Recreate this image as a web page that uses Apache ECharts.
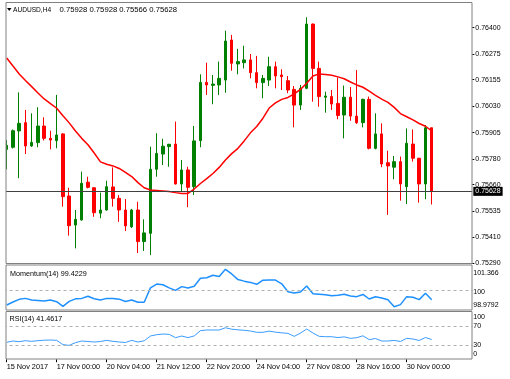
<!DOCTYPE html>
<html><head><meta charset="utf-8">
<script src="https://cdn.jsdelivr.net/npm/echarts@6/dist/echarts.min.js"></script>
<style>html,body{margin:0;padding:0;background:#fff}#c{width:510px;height:379px}</style>
</head><body><div id="c"></div>
<script>
// ---------- data ----------
const slotCount = 75; // 69 H4 bars + empty chart shift on the right
const xTickLabels = ['15 Nov 2017','17 Nov 00:00','20 Nov 04:00','21 Nov 12:00','22 Nov 20:00','24 Nov 04:00','27 Nov 08:00','28 Nov 16:00','30 Nov 00:00'];
const xTickEvery = 8;
const priceTicks = [0.75290,0.75410,0.75535,0.75660,0.75780,0.75905,0.76030,0.76155,0.76275,0.76400];
const momTicks = [98.9792,100,101.366];
const rsiTicks = [0,30,70,100];
const lastPrice = 0.75628;
const symbolText = 'AUDUSD,H4';
const ohlcText = '0.75928 0.75928 0.75566 0.75628';
const momTitle = 'Momentum(14) 99.4229';
const rsiTitle = 'RSI(14) 41.4617';

const openP = [0.75826,0.75836,0.75913,0.75952,0.75842,0.75858,0.75936,0.75878,0.75867,0.75899,
0.75606,0.75469,0.75493,0.75671,0.75645,0.75525,0.75540,0.75649,0.75595,0.75540,
0.75461,0.75540,0.75391,0.75430,0.75732,0.75804,0.75839,0.75851,0.75663,0.75729,
0.75650,0.75867,0.76142,0.76128,0.76130,0.76153,0.76342,0.76229,0.76235,0.76248,
0.76188,0.76141,0.76153,0.76216,0.76177,0.76150,0.76109,0.76035,0.76114,0.76417,
0.76208,0.76072,0.76075,0.76043,0.75988,0.76072,0.75983,0.75952,0.76062,0.75831,
0.75899,0.75763,0.75742,0.75768,0.75650,0.75851,0.75784,0.75663,0.75928];
const highP = [0.75870,0.75920,0.76095,0.76012,0.75996,0.76025,0.75977,0.75914,0.76083,0.75902,
0.75645,0.75540,0.75721,0.75697,0.75648,0.75622,0.75678,0.75741,0.75610,0.75592,
0.75545,0.75579,0.75496,0.75839,0.75902,0.75876,0.75852,0.75957,0.75776,0.75744,
0.75936,0.76180,0.76235,0.76177,0.76240,0.76386,0.76366,0.76300,0.76315,0.76276,
0.76267,0.76177,0.76263,0.76240,0.76204,0.76172,0.76125,0.76130,0.76449,0.76420,
0.76240,0.76098,0.76106,0.76165,0.76127,0.76120,0.76200,0.76065,0.76075,0.75996,
0.75949,0.75820,0.75795,0.75792,0.75925,0.75920,0.75786,0.75941,0.75928];
const lowP = [0.75732,0.75830,0.75690,0.75804,0.75838,0.75836,0.75868,0.75826,0.75831,0.75556,
0.75419,0.75359,0.75490,0.75642,0.75508,0.75501,0.75537,0.75556,0.75484,0.75441,
0.75455,0.75337,0.75347,0.75328,0.75697,0.75752,0.75744,0.75660,0.75626,0.75553,
0.75611,0.75836,0.76083,0.76039,0.76083,0.76093,0.76197,0.76180,0.76208,0.76161,
0.76114,0.76067,0.76125,0.76114,0.76106,0.76091,0.75930,0.76012,0.76110,0.76051,
0.76027,0.75999,0.76012,0.75968,0.75878,0.75961,0.75946,0.75930,0.75826,0.75826,
0.75742,0.75517,0.75685,0.75584,0.75568,0.75768,0.75575,0.75591,0.75566];
const closeP = [0.75845,0.75914,0.75949,0.75842,0.75859,0.75936,0.75878,0.75870,0.75894,0.75603,
0.75466,0.75496,0.75666,0.75647,0.75527,0.75540,0.75650,0.75595,0.75540,0.75465,
0.75540,0.75391,0.75432,0.75732,0.75807,0.75841,0.75850,0.75663,0.75729,0.75647,
0.75866,0.76142,0.76130,0.76134,0.76161,0.76337,0.76232,0.76240,0.76248,0.76188,
0.76141,0.76161,0.76216,0.76172,0.76169,0.76106,0.76035,0.76114,0.76417,0.76208,
0.76075,0.76078,0.76040,0.75986,0.76072,0.75983,0.75952,0.76062,0.75831,0.75899,
0.75757,0.75748,0.75768,0.75663,0.75855,0.75784,0.75663,0.75928,0.75628];
const maLine = [0.76257,0.76219,0.76182,0.76151,0.76122,0.76092,0.76064,0.76042,0.76020,0.75985,
0.75951,0.75913,0.75878,0.75848,0.75809,0.75767,0.75756,0.75748,0.75736,0.75718,
0.75698,0.75669,0.75645,0.75634,0.75632,0.75630,0.75627,0.75622,0.75618,0.75618,
0.75639,0.75665,0.75688,0.75712,0.75741,0.75776,0.75806,0.75831,0.75866,0.75904,
0.75934,0.75973,0.76021,0.76045,0.76062,0.76071,0.76088,0.76109,0.76138,0.76172,
0.76182,0.76179,0.76176,0.76168,0.76159,0.76144,0.76130,0.76119,0.76101,0.76081,
0.76063,0.76048,0.76024,0.75995,0.75980,0.75965,0.75948,0.75935,0.75913];
const momentum = [99.09,99.28,99.45,99.51,99.41,99.38,99.35,99.41,99.30,99.00,
99.32,99.48,99.51,99.65,99.49,99.41,99.51,99.51,99.46,99.31,
99.41,99.26,99.26,100.18,100.42,100.38,100.18,100.02,100.26,100.17,
100.28,100.79,100.83,100.99,100.91,101.366,101.07,100.71,100.61,100.53,
100.41,100.67,100.68,100.68,100.44,99.93,99.85,99.92,100.30,99.80,
99.77,99.74,99.68,99.71,99.77,99.66,99.62,99.76,99.47,99.61,
99.54,99.42,98.9792,99.11,99.62,99.58,99.43,99.84,99.4229];
const rsi = [35.6,38.4,37.0,39.1,37.7,39.1,40.1,40.5,39.8,30.7,
29.3,34.9,38.4,37.4,36.3,37.4,39.8,37.7,36.3,35.2,
39.8,36.3,38.8,48.9,51.7,53.1,52.4,45.4,48.9,45.6,
49.1,60.2,61.6,61.6,61.6,66.3,63.3,62.0,60.9,59.5,
56.7,56.7,59.2,57.1,55.6,54.5,48.2,55.0,63.7,55.3,
48.2,47.5,47.5,45.7,47.1,44.0,45.4,49.4,41.2,43.7,
38.4,38.4,39.6,37.5,44.0,42.6,39.5,45.8,41.4617];

// ---------- chart ----------
const slots = Array.from({length: slotCount}, (_, i) => String(i));
const candles = openP.map((o, i) => [o, closeP[i], lowP[i], highP[i]]);
const FONT = '"Liberation Sans", Arial, sans-serif';
const GL = 3.575, GW = 468.75;
const isTick = (i) => i % xTickEvery === 0 && i / xTickEvery < xTickLabels.length;
const near = (a, b) => Math.abs(a - b) < 1e-6;

const grids = [
  {left: GL, width: GW, top: 3, height: 260, outerBoundsMode: 'none'},
  {left: GL, width: GW, top: 265, height: 45, outerBoundsMode: 'none'},
  {left: GL, width: GW, top: 311.75, height: 47.5, outerBoundsMode: 'none'}
];
const xAxes = [0, 1, 2].map(g => ({
  type: 'category', gridIndex: g, data: slots, boundaryGap: true,
  axisLine: {show: false},
  axisTick: g === 2 ? {show: true, alignWithLabel: true, interval: (i) => isTick(i), length: 3, lineStyle: {color: '#000'}} : {show: false},
  axisLabel: g === 2 ? {show: true, interval: (i) => isTick(i), formatter: (v) => xTickLabels[Number(v) / xTickEvery] || '',
    align: 'left', margin: 4, fontSize: 7.3, color: '#000', fontFamily: FONT} : {show: false},
  splitLine: {show: false}
}));
const yAxes = [
  {type: 'value', gridIndex: 0, position: 'right', min: 0.7529, max: 0.765165, scale: true,
   axisLine: {show: false}, splitLine: {show: false},
   axisTick: {show: true, customValues: priceTicks, length: 2, lineStyle: {color: '#000'}},
   axisLabel: {customValues: priceTicks, formatter: (v) => v.toFixed(5), fontSize: 7, color: '#000', margin: 3, fontFamily: FONT}},
  {type: 'value', gridIndex: 1, position: 'right', min: 98.7686, max: 101.640, scale: true,
   axisLine: {show: false}, splitLine: {show: false}, axisTick: {show: false},
   axisLabel: {customValues: momTicks, margin: 1, fontSize: 7, color: '#000', fontFamily: FONT,
     formatter: (v) => near(v, 101.366) ? '{t|101.366}' : near(v, 98.9792) ? '{b|98.9792}' : '{m|100}',
     rich: {t: {padding: [7, 0, 0, 0], fontSize: 7, color: '#000', fontFamily: FONT},
            b: {padding: [0, 0, 4, 0], fontSize: 7, color: '#000', fontFamily: FONT},
            m: {padding: [2, 0, 0, 0], fontSize: 7, color: '#000', fontFamily: FONT}}}},
  {type: 'value', gridIndex: 2, position: 'right', min: 0, max: 100,
   axisLine: {show: false}, splitLine: {show: false}, axisTick: {show: false},
   axisLabel: {customValues: rsiTicks, margin: 1, fontSize: 7, color: '#000', fontFamily: FONT,
     formatter: (v) => v === 100 ? '{t|100}' : v === 0 ? '{b|0}' : '{m|' + v + '}',
     rich: {t: {padding: [10, 0, 0, 0], fontSize: 7, color: '#000', fontFamily: FONT},
            b: {padding: [0, 0, 10, 0], fontSize: 7, color: '#000', fontFamily: FONT},
            m: {fontSize: 7, color: '#000', fontFamily: FONT}}}}
];

const frameStyle = {fill: 'none', stroke: '#808080', lineWidth: 1};
const txt = (size) => ({fontSize: size, fontWeight: 'normal', color: '#000', fontFamily: FONT});
const option = {
  animation: false,
  backgroundColor: '#fff',
  title: [
    {text: symbolText, left: 13, top: 6.3, padding: 0, textStyle: txt(6.6)},
    {text: ohlcText, left: 59.5, top: 6, padding: 0, textStyle: txt(7.7)},
    {text: momTitle, left: 10, top: 270.5, padding: 0, textStyle: txt(7.2)},
    {text: rsiTitle, left: 9.5, top: 315.3, padding: 0, textStyle: txt(7.2)}
  ],
  grid: grids, xAxis: xAxes, yAxis: yAxes,
  series: [
    {type: 'candlestick', xAxisIndex: 0, yAxisIndex: 0, data: candles, barWidth: 3,
     itemStyle: {color: '#008000', color0: '#ff0000', borderColor: '#008000', borderColor0: '#ff0000', borderWidth: 1}},
    {type: 'line', xAxisIndex: 0, yAxisIndex: 0, data: maLine, symbol: 'none', lineStyle: {color: '#ff0000', width: 1.5}, z: 3,
     markLine: {silent: true, symbol: 'none', animation: false, precision: 5,
       lineStyle: {color: '#404040', width: 1, type: 'solid'},
       label: {show: true, position: 'end', formatter: lastPrice.toFixed(5), color: '#fff', backgroundColor: '#000',
               fontSize: 7, fontFamily: FONT, padding: [1, 2, 1, 2], distance: 1},
       data: [{yAxis: lastPrice}]}},
    {type: 'line', xAxisIndex: 1, yAxisIndex: 1, data: momentum, symbol: 'none', lineStyle: {color: '#1e90ff', width: 1.5},
     markLine: {silent: true, symbol: 'none', animation: false, precision: 4, label: {show: false},
       lineStyle: {color: '#b0b0b0', width: 1, type: [3, 3]}, data: [{yAxis: 100}]}},
    {type: 'line', xAxisIndex: 2, yAxisIndex: 2, data: rsi, symbol: 'none', lineStyle: {color: '#3a9cff', width: 1},
     markLine: {silent: true, symbol: 'none', animation: false, label: {show: false},
       lineStyle: {color: '#b0b0b0', width: 1, type: [3, 3]}, data: [{yAxis: 70}, {yAxis: 30}]}}
  ],
  graphic: [
    {type: 'rect', shape: {x: 0, y: 0, width: 6, height: 379}, style: {fill: '#fff'}, z: 100, silent: true},
    {type: 'rect', shape: {x: 6, y: 2.5, width: 466, height: 261}, style: frameStyle, z: 101, silent: true},
    {type: 'rect', shape: {x: 6, y: 265, width: 466, height: 45}, style: frameStyle, z: 101, silent: true},
    {type: 'rect', shape: {x: 6, y: 311.5, width: 466, height: 47.5}, style: frameStyle, z: 101, silent: true},
    {type: 'polygon', shape: {points: [[7, 8], [11.5, 8], [9.25, 11]]}, style: {fill: '#000'}, z: 101, silent: true}
  ]
};
const chart = echarts.init(document.getElementById('c'), null, {renderer: 'canvas'});
chart.setOption(option);
</script>
</body></html>
